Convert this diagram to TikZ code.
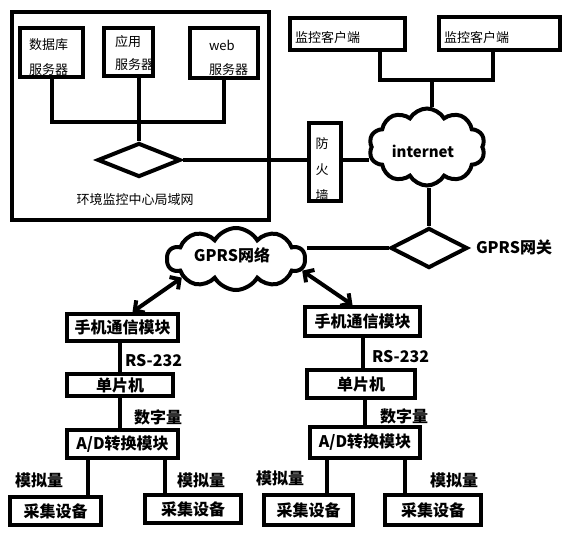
\documentclass[tikz,border=0pt]{standalone}
\usepackage{fontspec}
\setmainfont{Noto Sans CJK SC}
\usetikzlibrary{shapes.geometric,shapes.symbols,arrows.meta}
\begin{document}
\begin{tikzpicture}[x=1pt,y=-1pt,line width=4pt,
  box/.style={draw,rectangle,inner sep=0pt,font=\fontsize{16}{18}\selectfont\bfseries},
  txt/.style={inner sep=0pt,font=\fontsize{13}{15}\selectfont},
  btxt/.style={inner sep=0pt,font=\fontsize{16}{18}\selectfont\bfseries},
  hub/.style={draw,diamond,inner sep=0pt},
  cl/.style={draw,cloud,cloud puffs=10,cloud puff arc=120,cloud ignores aspect,inner sep=0pt},
  dbl/.style={{Straight Barb[length=7pt,width=15pt]}-{Straight Barb[length=7pt,width=15pt]}}]
\useasboundingbox (0,0) rectangle (570,535);
% LAN
\node[box,minimum width=257,minimum height=208] (lan) at (140.5,116) {};
\node[txt,anchor=west] (s1a) at (27,45) {数据库};
\node[txt,anchor=west] (s1b) at (27,70) {服务器};
\node[txt,anchor=west] (s2a) at (113,42) {应用};
\node[txt,anchor=west] (s2b) at (113,65) {服务器};
\node[txt,anchor=west] (s3a) at (207,45) {web};
\node[txt,anchor=west] (s3b) at (207,70) {服务器};
\node[box,minimum width=63,minimum height=49] (s1) at (51.5,52.5) {};
\node[box,minimum width=49,minimum height=48] (s2) at (128.5,52) {};
\node[box,minimum width=68,minimum height=50] (s3) at (224,53) {};
\coordinate (bus) at (139,122);
\node[hub,minimum width=83,minimum height=34] (lanhub) at (139,160) {};
\draw (s1.south) |- (s3.south |- bus) -- (s3.south);
\draw (s2.south -| bus) -- (lanhub.north);
\node[txt] (lant) at (135,200) {环境监控中心局域网};
% firewall
\node[txt,align=center,font=\fontsize{13}{26}\selectfont] (fwt) at (322,170) {防\\火\\墙};
\node[box,minimum width=32,minimum height=78] (fw) at (325,162) {};
\draw (lanhub.east) -- (lanhub.east -| fw.west);
% internet
\node[cl,minimum width=116,minimum height=77] (inet) at (427,147) {};
\node[btxt,font=\fontsize{15}{17}\selectfont\bfseries] (inett) at (423,151) {internet};
\draw (fw.east |- lanhub.east) -- (inet.west |- lanhub.east);
% clients
\node[txt,anchor=west] (c1t) at (293,38) {监控客户端};
\node[txt,anchor=west] (c2t) at (442,38) {监控客户端};
\node[box,minimum width=115,minimum height=32] (c1) at (347.5,34) {};
\node[box,minimum width=121,minimum height=33] (c2) at (499.5,33.5) {};
\coordinate (cbus) at (432,80);
\coordinate (c1d) at (380,50);
\coordinate (c2d) at (493,50);
\draw (c1d) |- (cbus) -| (c2d);
\draw (cbus) -- (cbus |- inet.north);
% gateway
\node[hub,minimum width=77,minimum height=40] (gw) at (429,248) {};
\draw (gw.north |- inet.south) -- (gw.north);
\node[btxt,anchor=west] (gwt) at (474,247) {GPRS网关};
% GPRS cloud
\node[cl,minimum width=138,minimum height=62] (gc) at (236,259) {};
\node[btxt] (gct) at (232,255) {GPRS网络};
\draw (gw.west -| gc.east) -- (gw.west);
% left stack
\node[box,minimum width=111,minimum height=27] (m1) at (122.5,327.5) {手机通信模块};
\node[box,minimum width=106,minimum height=22] (u1) at (120,385) {单片机};
\node[box,minimum width=111,minimum height=28] (a1) at (122.5,444) {A/D转换模块};
\node[box,minimum width=91,minimum height=28] (d1a) at (55.5,511) {采集设备};
\node[box,minimum width=96,minimum height=28] (d1b) at (193,509) {采集设备};
\draw (u1.north |- m1.south) -- (u1.north);
\draw (u1.south) -- (u1.south |- a1.north);
\coordinate (k1) at (88,458);
\coordinate (k2) at (165,458);
\draw (k1) -- (k1 |- d1a.north);
\draw (k2) -- (k2 |- d1b.north);
\node[btxt,anchor=west] (r1) at (123,361) {RS-232};
\node[btxt,anchor=west] (n1) at (132,417) {数字量};
\node[btxt] (g1a) at (39,480) {模拟量};
\node[btxt] (g1b) at (201,480) {模拟量};
% right stack
\node[box,minimum width=115,minimum height=29] (m2) at (362.5,321.5) {手机通信模块};
\node[box,minimum width=108,minimum height=28] (u2) at (361,384) {单片机};
\node[box,minimum width=110,minimum height=31] (a2) at (365,442.5) {A/D转换模块};
\node[box,minimum width=89,minimum height=30] (d2a) at (308.5,510) {采集设备};
\node[box,minimum width=96,minimum height=30] (d2b) at (433,510) {采集设备};
\coordinate (k3) at (363,336);
\coordinate (k4) at (365,398);
\draw (k3) -- (k3 |- u2.north);
\draw (k4) -- (k4 |- a2.north);
\coordinate (k5) at (327,458);
\coordinate (k6) at (405,458);
\draw (k5) -- (k5 |- d2a.north);
\draw (k6) -- (k6 |- d2b.north);
\node[btxt,anchor=west] (r2) at (370,357) {RS-232};
\node[btxt,anchor=west] (n2) at (378,416) {数字量};
\node[btxt] (g2a) at (280,478) {模拟量};
\node[btxt] (g2b) at (454,480) {模拟量};
% arrows
\draw[dbl] (gc.199) -- ([xshift=10]m1.north);
\draw[dbl] (gc.350) -- ([xshift=-10]m2.north);
\end{tikzpicture}
\end{document}
